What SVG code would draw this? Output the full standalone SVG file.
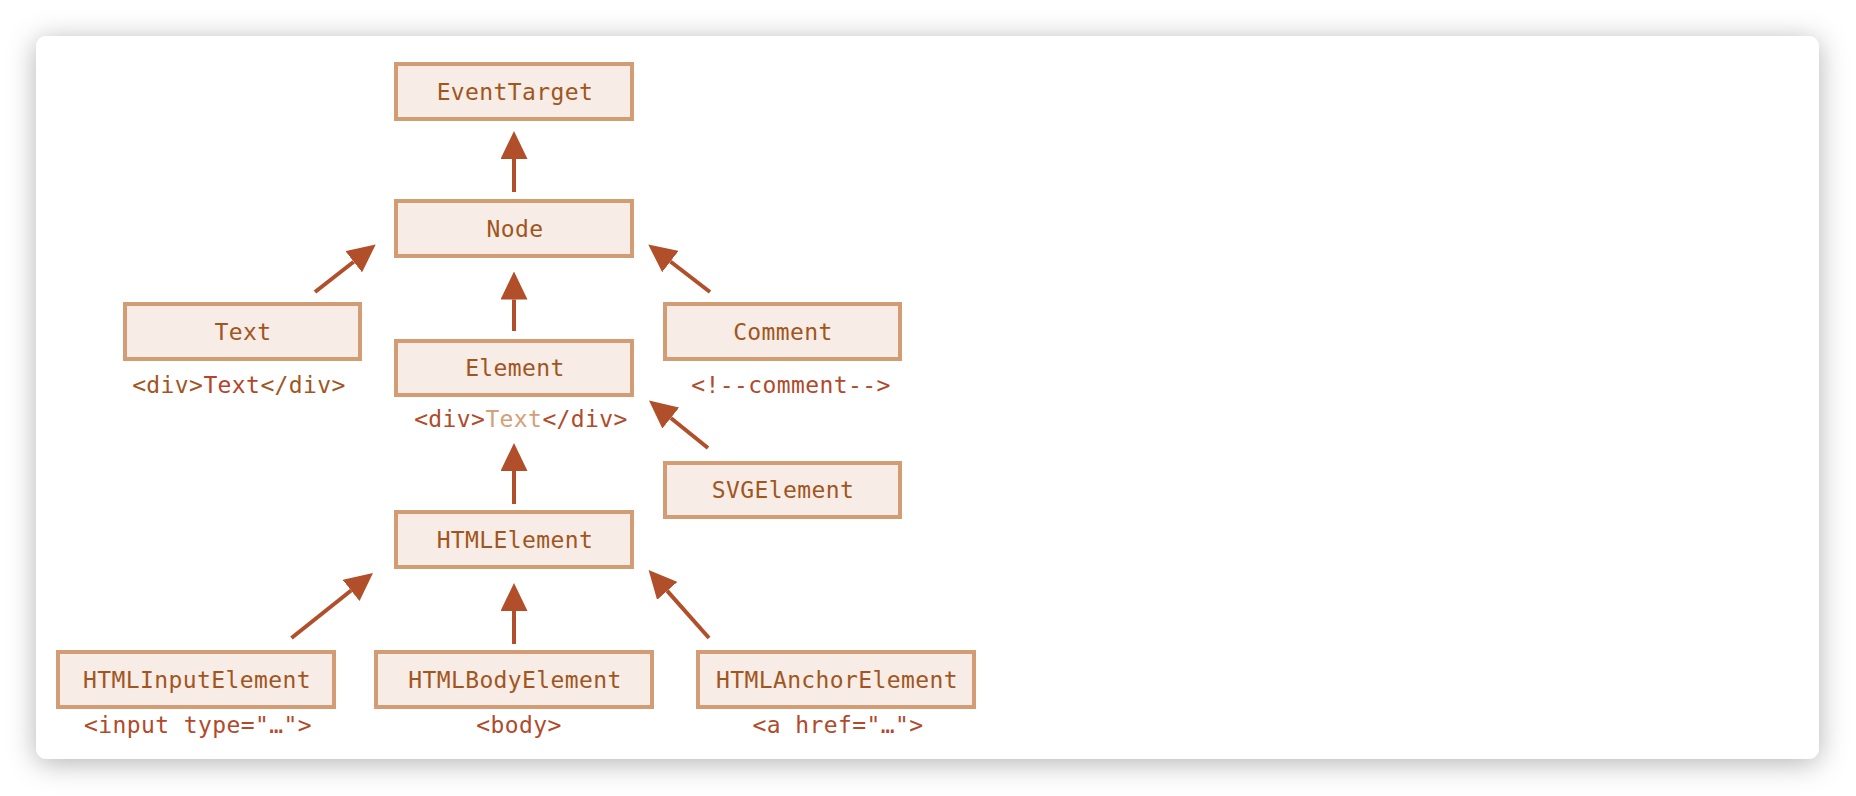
<svg xmlns="http://www.w3.org/2000/svg" width="1856" height="796" viewBox="0 0 1856 796">
  <style>
    .box { fill: #F8ECE6; stroke: #D29D74; stroke-width: 4; }
    .t { font-family: "DejaVu Sans Mono", "Liberation Mono", monospace; font-size: 23px; letter-spacing: 0.4px; text-anchor: middle; fill: #A0561E; }
    .lbl { fill: #B04A2A; }
    .conn line { stroke: #B04F29; stroke-width: 4; fill: none; marker-end: url(#arrow); }
  </style>
  <defs>
    <filter id="shadow" x="-5%" y="-10%" width="110%" height="125%">
      <feDropShadow dx="0" dy="4" stdDeviation="14" flood-color="#000" flood-opacity="0.3"/>
    </filter>
    <marker id="arrow" markerUnits="userSpaceOnUse" markerWidth="28" markerHeight="27" refX="0" refY="13.5" orient="auto" viewBox="0 0 28 27">
      <path d="M0,0 L28,13.5 L0,27 Z" fill="#B04F29"/>
    </marker>
  </defs>
  <rect width="1856" height="796" fill="#FFFFFF"/>
  <rect id="card" x="36" y="36" width="1783" height="723" rx="11" fill="#FFFFFF" filter="url(#shadow)"/>

  <g id="connectors" class="conn">
    <line x1="514" y1="192" x2="514" y2="159"/>
    <line x1="315" y1="292" x2="353.7" y2="261.7"/>
    <line x1="710" y1="292" x2="670.4" y2="261.5"/>
    <line x1="514" y1="331" x2="514" y2="299.5"/>
    <line x1="708" y1="448" x2="670.8" y2="418"/>
    <line x1="514" y1="504" x2="514" y2="471"/>
    <line x1="291.5" y1="638" x2="351.1" y2="590.5"/>
    <line x1="514" y1="644" x2="514" y2="611"/>
    <line x1="709" y1="638" x2="667.2" y2="590.9"/>
  </g>

  <g id="EventTarget">
    <rect class="box" x="396" y="64" width="236" height="55"/>
    <text class="t" x="515" y="100">EventTarget</text>
  </g>
  <g id="Node">
    <rect class="box" x="396" y="201" width="236" height="55"/>
    <text class="t" x="515" y="237">Node</text>
  </g>
  <g id="Text">
    <rect class="box" x="125" y="304" width="235" height="55"/>
    <text class="t" x="243" y="340">Text</text>
    <text class="t" x="239" y="393">&lt;div&gt;<tspan fill="#B4452A">Text</tspan>&lt;/div&gt;</text>
  </g>
  <g id="Element">
    <rect class="box" x="396" y="341" width="236" height="54"/>
    <text class="t" x="515" y="376">Element</text>
    <text class="t lbl" x="521" y="427">&lt;div&gt;<tspan fill="#D4A078">Text</tspan>&lt;/div&gt;</text>
  </g>
  <g id="Comment">
    <rect class="box" x="665" y="304" width="235" height="55"/>
    <text class="t" x="783" y="340">Comment</text>
    <text class="t lbl" x="791" y="393">&lt;!--comment--&gt;</text>
  </g>
  <g id="SVGElement">
    <rect class="box" x="665" y="463" width="235" height="54"/>
    <text class="t" x="783" y="498">SVGElement</text>
  </g>
  <g id="HTMLElement">
    <rect class="box" x="396" y="512" width="236" height="55"/>
    <text class="t" x="515" y="548">HTMLElement</text>
  </g>
  <g id="HTMLInputElement">
    <rect class="box" x="58" y="652" width="276" height="55"/>
    <text class="t" x="197" y="688">HTMLInputElement</text>
    <text class="t lbl" x="198" y="733">&lt;input type="…"&gt;</text>
  </g>
  <g id="HTMLBodyElement">
    <rect class="box" x="376" y="652" width="276" height="55"/>
    <text class="t" x="515" y="688">HTMLBodyElement</text>
    <text class="t lbl" x="519" y="733">&lt;body&gt;</text>
  </g>
  <g id="HTMLAnchorElement">
    <rect class="box" x="698" y="652" width="276" height="55"/>
    <text class="t" x="837" y="688">HTMLAnchorElement</text>
    <text class="t lbl" x="838" y="733">&lt;a href="…"&gt;</text>
  </g>
</svg>
